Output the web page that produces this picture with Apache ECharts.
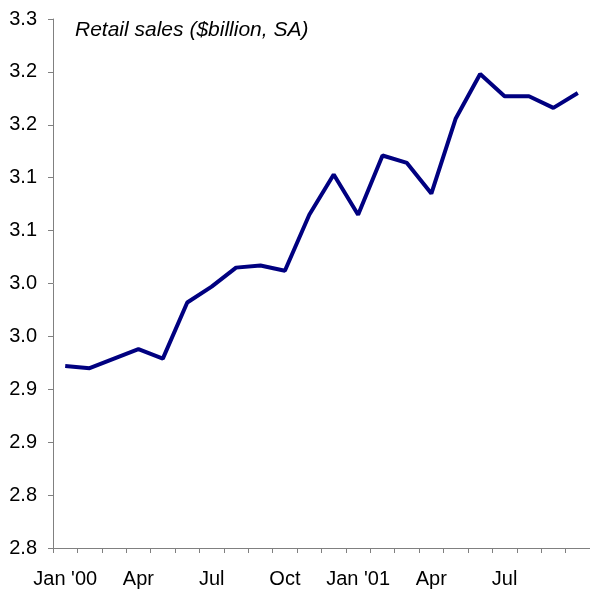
<!DOCTYPE html>
<html>
<head>
<meta charset="utf-8">
<script src="https://cdn.jsdelivr.net/npm/echarts@6/dist/echarts.min.js"></script>
<style>
  html, body { margin: 0; padding: 0; background: #fff; }
  #chart { width: 590px; height: 590px; }
</style>
</head>
<body>
<div id="chart"></div>
<script>
// months, Jan 2000 - Oct 2001
const months = ['Jan \'00', 'Feb', 'Mar', 'Apr', 'May', 'Jun', 'Jul', 'Aug', 'Sep', 'Oct', 'Nov', 'Dec',
  'Jan \'01', 'Feb', 'Mar', 'Apr', 'May', 'Jun', 'Jul', 'Aug', 'Sep', 'Oct']
// retail sales, $billion SA
const sales = [2.922, 2.920, 2.929, 2.938, 2.929, 2.982, 2.997, 3.015, 3.017, 3.012, 3.065, 3.103,
  3.065, 3.121, 3.114, 3.085, 3.156, 3.198, 3.177, 3.177, 3.166, 3.180]
// y tick labels as printed on the original (rounded to one decimal)
const yTickLabels = ['2.8', '2.8', '2.9', '2.9', '3.0', '3.0', '3.1', '3.1', '3.2', '3.2', '3.3']
const yMin = 2.75
const yStep = 0.05

const chart = echarts.init(document.getElementById('chart'))
const font = '"Liberation Sans", Arial, sans-serif'

chart.setOption({
  animation: false,
  grid: { left: 53, right: -1, top: 19, bottom: 42, containLabel: false },
  graphic: [{
    type: 'text',
    left: 75,
    top: 20,
    style: {
      text: 'Retail sales ($billion, SA)',
      font: 'italic 21px ' + font,
      fill: '#000'
    }
  }],
  xAxis: {
    type: 'category',
    data: months,
    boundaryGap: true,
    axisLine: { lineStyle: { color: '#808080', width: 1 } },
    axisTick: { show: true, interval: 0, length: 5, lineStyle: { color: '#808080' } },
    axisLabel: {
      // every quarter, the last month (Oct '01) is left unlabelled
      interval: function (i) { return i % 3 === 0 && i < months.length - 1 },
      color: '#000',
      fontFamily: font,
      fontSize: 20,
      margin: 21
    },
    splitLine: { show: false }
  },
  yAxis: {
    type: 'value',
    min: yMin,
    max: 3.25,
    interval: yStep,
    axisLine: { show: true, lineStyle: { color: '#808080', width: 1 } },
    axisTick: { show: true, length: 5, lineStyle: { color: '#808080' } },
    axisLabel: {
      color: '#000',
      fontFamily: font,
      fontSize: 20,
      margin: 16,
      formatter: function (v) {
        const i = Math.round((v - yMin) / yStep)
        return yTickLabels[i]
      }
    },
    splitLine: { show: false }
  },
  series: [{
    type: 'line',
    data: sales,
    showSymbol: false,
    symbol: 'none',
    lineStyle: { color: '#000080', width: 4 }
  }]
})
</script>
</body>
</html>
